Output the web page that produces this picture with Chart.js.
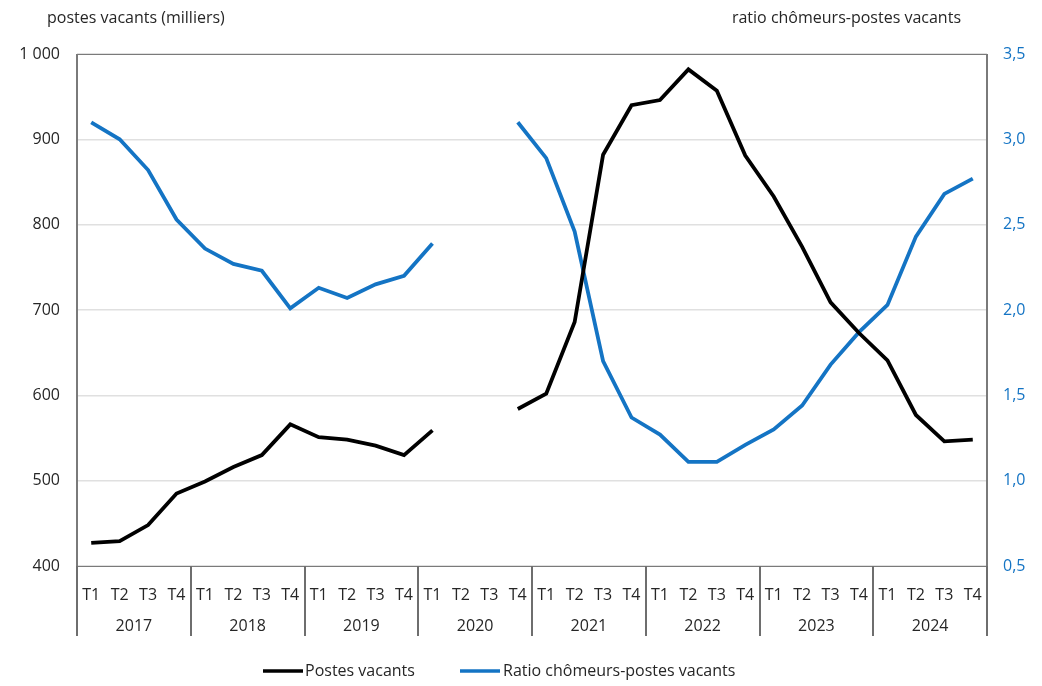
<!DOCTYPE html>
<html><head><meta charset="utf-8">
<script src="https://cdn.jsdelivr.net/npm/chart.js@4.4.1/dist/chart.umd.min.js"></script>
<style>html,body{margin:0;padding:0;background:#fff}#wrap{width:1042px;height:686px;position:relative}</style>
</head><body><div id="wrap"><canvas id="c" width="1042" height="686"></canvas></div>
<script>
const years = ['2017','2018','2019','2020','2021','2022','2023','2024'];
const quarters = ['T1','T2','T3','T4'];
const postesVacants = [427,429,448,485, 499,516,530,566, 551,548,541,530, 559,null,null,584, 602,686,882,940, 946,982,957,881, 833,774,709,673, 641,577,546,548];
const ratioChomeurs = [3.10,3.00,2.82,2.53, 2.36,2.27,2.23,2.01, 2.13,2.07,2.15,2.20, 2.39,null,null,3.10, 2.89,2.46,1.70,1.37, 1.27,1.11,1.11,1.21, 1.30,1.44,1.68,1.87, 2.03,2.43,2.68,2.77];
const leftTicks = [400,500,600,700,800,900,1000];
const rightTicks = [0.5,1.0,1.5,2.0,2.5,3.0,3.5];
const labels = [];
years.forEach(y => quarters.forEach(q => labels.push(q)));

const FONT = '"Open Sans", "Noto Sans", sans-serif';
const FS = 16;
const BLUE = '#1474C4';

const decor = {
  id: 'decor',
  afterDraw(chart) {
    const ctx = chart.ctx, a = chart.chartArea, xs = chart.scales.x;
    ctx.save();
    ctx.strokeStyle = '#7a7a7a';
    ctx.lineWidth = 1;
    ctx.strokeRect(a.left + 0.5, a.top + 0.5, a.right - a.left, a.bottom - a.top);
    ctx.lineWidth = 2;
    ctx.beginPath();
    ctx.moveTo(a.left, a.top); ctx.lineTo(a.left, a.bottom);
    ctx.moveTo(a.right, a.top); ctx.lineTo(a.right, a.bottom);
    ctx.stroke();
    const w = (a.right - a.left) / years.length;
    ctx.lineWidth = 2;
    ctx.strokeStyle = '#6e6e6e';
    ctx.beginPath();
    for (let i = 0; i <= years.length; i++) {
      const x = Math.round(a.left + i * w);
      ctx.moveTo(x, a.bottom); ctx.lineTo(x, a.bottom + 70);
    }
    ctx.stroke();
    ctx.fillStyle = '#262626';
    ctx.font = FS + 'px ' + FONT;
    ctx.textAlign = 'center';
    ctx.textBaseline = 'middle';
    years.forEach((y, i) => {
      const x = (xs.getPixelForValue(i * 4) + xs.getPixelForValue(i * 4 + 3)) / 2;
      ctx.fillText(y, x, a.bottom + 60);
    });
    ctx.textBaseline = 'alphabetic';
    ctx.textAlign = 'left';
    ctx.fillText('postes vacants (milliers)', 47, 23);
    ctx.textAlign = 'right';
    ctx.fillText('ratio chômeurs-postes vacants', 961, 23);
    const ly = 671;
    ctx.lineWidth = 3.5;
    ctx.strokeStyle = '#000';
    ctx.beginPath(); ctx.moveTo(263, ly); ctx.lineTo(303, ly); ctx.stroke();
    ctx.strokeStyle = BLUE;
    ctx.beginPath(); ctx.moveTo(460, ly); ctx.lineTo(500, ly); ctx.stroke();
    ctx.textAlign = 'left';
    ctx.textBaseline = 'middle';
    ctx.fillStyle = '#262626';
    ctx.fillText(chart.data.datasets[0].label, 305, ly);
    ctx.fillText(chart.data.datasets[1].label, 503, ly);
    ctx.restore();
  }
};

new Chart(document.getElementById('c'), {
  type: 'line',
  data: {
    labels: labels,
    datasets: [
      { label: 'Postes vacants', data: postesVacants, yAxisID: 'y', borderColor: '#000', borderWidth: 3.8, pointRadius: 0, tension: 0, spanGaps: false, order: 1 },
      { label: 'Ratio chômeurs-postes vacants', data: ratioChomeurs, yAxisID: 'y1', borderColor: BLUE, borderWidth: 3.8, pointRadius: 0, tension: 0, spanGaps: false, order: 2 }
    ]
  },
  options: {
    responsive: false,
    animation: false,
    devicePixelRatio: 1,
    layout: { padding: { top: 54, bottom: 50, left: 0, right: 0 } },
    plugins: { legend: { display: false }, tooltip: { enabled: false } },
    scales: {
      x: {
        type: 'category',
        offset: true,
        grid: { display: false },
        border: { display: false },
        ticks: { autoSkip: false, maxRotation: 0, color: '#262626', font: { size: FS, family: FONT }, padding: 12 },
        afterFit(s) { s.height = 70; }
      },
      y: {
        position: 'left',
        min: 400, max: 1000,
        afterBuildTicks(s) { s.ticks = leftTicks.map(v => ({ value: v })); },
        grid: { color: '#e0e0e0', lineWidth: 1.5, drawTicks: false },
        border: { display: false },
        ticks: { color: '#262626', font: { size: FS, family: FONT }, padding: 17,
          callback: v => v >= 1000 ? String(v).replace(/(\d)(\d{3})$/, '$1 $2') : String(v) },
        afterFit(s) { s.width = 77; }
      },
      y1: {
        position: 'right',
        min: 0.5, max: 3.5,
        afterBuildTicks(s) { s.ticks = rightTicks.map(v => ({ value: v })); },
        grid: { display: false, drawTicks: false },
        border: { display: false },
        ticks: { color: BLUE, font: { size: FS, family: FONT }, padding: 16,
          callback: v => v.toFixed(1).replace('.', ',') },
        afterFit(s) { s.width = 55; }
      }
    }
  },
  plugins: [decor]
});
</script></body></html>
